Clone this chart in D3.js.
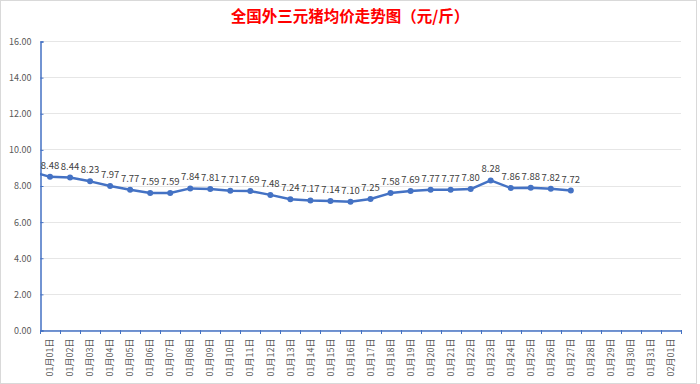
<!DOCTYPE html>
<html>
<head>
<meta charset="utf-8">
<script src="https://cdn.jsdelivr.net/npm/d3@7"></script>
<style>
  body { margin: 0; background: #fff; }
  #chart { width: 700px; height: 384px; }
  text { font-family: "Noto Sans CJK SC", "Microsoft YaHei", sans-serif; }
</style>
</head>
<body>
<div id="chart"></div>
<script>
const width = 700,
    height = 384;

// 日期类别
const days = [
    "01月01日", "01月02日", "01月03日", "01月04日", "01月05日", "01月06日", "01月07日", "01月08日",
    "01月09日", "01月10日", "01月11日", "01月12日", "01月13日", "01月14日", "01月15日", "01月16日",
    "01月17日", "01月18日", "01月19日", "01月20日", "01月21日", "01月22日", "01月23日", "01月24日",
    "01月25日", "01月26日", "01月27日", "01月28日", "01月29日", "01月30日", "01月31日", "02月01日"
];

// 均价 (元/斤)
const prices = [
    8.48, 8.44, 8.23, 7.97, 7.77, 7.59, 7.59, 7.84, 7.81, 7.71, 7.69, 7.48, 7.24, 7.17,
    7.14, 7.10, 7.25, 7.58, 7.69, 7.77, 7.77, 7.80, 8.28, 7.86, 7.88, 7.82, 7.72
];

// 前一天价格（在图外，只能看到线头）
const prevPrice = 8.80;

const yTicks = [0, 2, 4, 6, 8, 10, 12, 14, 16];

const margin = { top: 41, right: 19, bottom: 54, left: 40 };

let svg = d3.select('#chart').append('svg')
    .attr('width', width)
    .attr('height', height);

// 外框
svg.append("rect")
    .attr("x", 0.5).attr("y", 0.5)
    .attr("width", width - 4).attr("height", height - 1)
    .attr("fill", "none")
    .attr("stroke", "#d9d9d9");

svg.append("text")
    .attr("x", 350)
    .attr("y", 22)
    .attr("text-anchor", "middle")
    .attr("fill", "#ff0000")
    .attr("font-size", 15.5)
    .attr("font-weight", "bold")
    .text("全国外三元猪均价走势图（元/斤）");

let x = d3.scaleBand()
    .domain(days)
    .range([margin.left, width - margin.right]);

let y = d3.scaleLinear()
    .domain([0, 16])
    .range([height - margin.bottom, margin.top]);

// 网格线
svg.append("g")
    .selectAll("line")
    .data(yTicks)
    .enter()
    .append("line")
    .attr("x1", margin.left)
    .attr("x2", width - margin.right)
    .attr("y1", d => Math.round(y(d)) + 0.5)
    .attr("y2", d => Math.round(y(d)) + 0.5)
    .attr("stroke", "#e6e6e6");

// y 轴
let yAxis = svg.append("g")
    .attr("transform", `translate(${margin.left + 0.5},0.5)`)
    .call(d3.axisRight(y).tickValues(yTicks).tickSize(3).tickFormat(d3.format(".2f")));
yAxis.select(".domain").attr("stroke", "#4472c4").attr("stroke-width", 1.5);
yAxis.selectAll(".tick line").attr("stroke", "#4472c4");
yAxis.selectAll(".tick text")
    .attr("x", -9)
    .attr("text-anchor", "end")
    .attr("fill", "#595959")
    .attr("font-size", 9);

// x 轴
let xAxis = svg.append("g")
    .attr("transform", `translate(0,${Math.round(y(0)) + 0.5})`)
    .call(d3.axisBottom(x).tickSize(0));
xAxis.select(".domain").attr("stroke", "#4472c4").attr("stroke-width", 1.5);
xAxis.selectAll(".tick text")
    .attr("transform", "rotate(-90)")
    .attr("x", -8)
    .attr("y", 0)
    .attr("dy", "0.35em")
    .attr("text-anchor", "end")
    .attr("fill", "#595959")
    .attr("font-size", 9);

// 刻度线在类别边界
svg.append("g")
    .selectAll("line")
    .data(days.concat(["end"]))
    .enter()
    .append("line")
    .attr("x1", (d, i) => Math.round(margin.left + i * x.step()) + 0.5)
    .attr("x2", (d, i) => Math.round(margin.left + i * x.step()) + 0.5)
    .attr("y1", Math.round(y(0)))
    .attr("y2", Math.round(y(0)) + 4)
    .attr("stroke", "#4472c4");

// 折线
const cx = i => x(days[i]) + x.bandwidth() / 2;

svg.append("clipPath").attr("id", "plotClip")
    .append("rect")
    .attr("x", margin.left).attr("y", 0)
    .attr("width", width - margin.left).attr("height", height);

let pts = [[cx(0) - x.step(), y(prevPrice)]].concat(prices.map((v, i) => [cx(i), y(v)]));

svg.append("path")
    .attr("clip-path", "url(#plotClip)")
    .attr("d", d3.line()(pts))
    .attr("fill", "none")
    .attr("stroke", "#4472c4")
    .attr("stroke-width", 2.5)
    .attr("stroke-linejoin", "round");

svg.append("g")
    .selectAll("circle")
    .data(prices)
    .enter()
    .append("circle")
    .attr("cx", (d, i) => cx(i))
    .attr("cy", d => y(d))
    .attr("r", 3)
    .attr("fill", "#4472c4");

// 数据标签
svg.append("g")
    .selectAll("text")
    .data(prices)
    .enter()
    .append("text")
    .attr("x", (d, i) => cx(i))
    .attr("y", d => y(d) - 8)
    .attr("text-anchor", "middle")
    .attr("fill", "#404040")
    .attr("font-size", 9.5)
    .text(d => d.toFixed(2));
</script>
</body>
</html>
